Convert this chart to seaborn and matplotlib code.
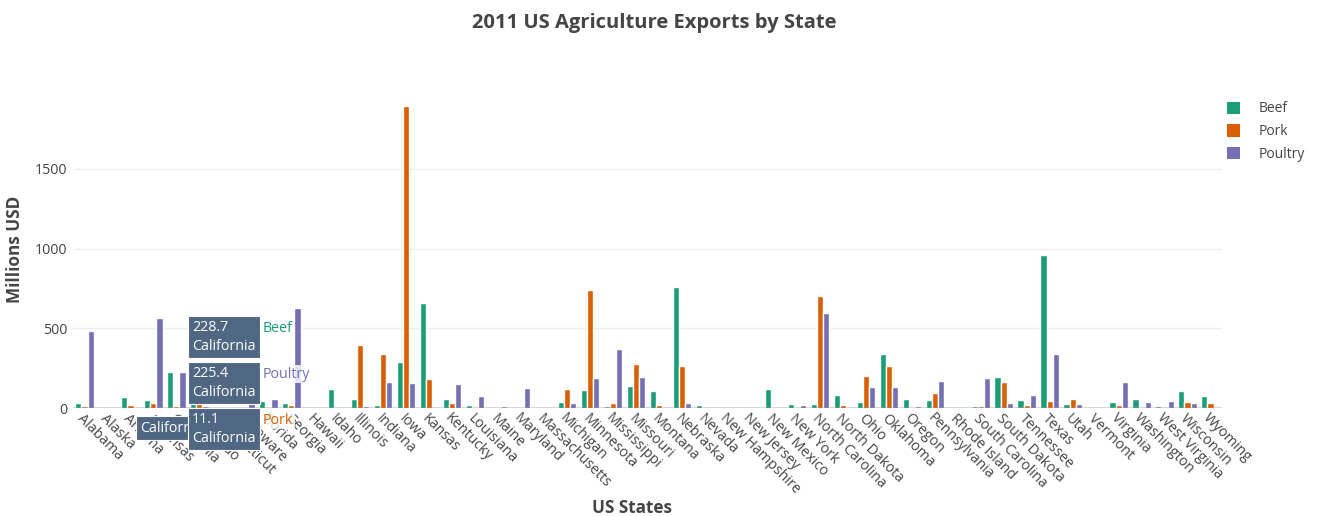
import pandas as pd
import seaborn as sns
import matplotlib.pyplot as plt
from matplotlib.patches import Patch

states = ['Alabama', 'Alaska', 'Arizona', 'Arkansas', 'California', 'Colorado', 'Connecticut',
          'Delaware', 'Florida', 'Georgia', 'Hawaii', 'Idaho', 'Illinois', 'Indiana', 'Iowa',
          'Kansas', 'Kentucky', 'Louisiana', 'Maine', 'Maryland', 'Massachusetts', 'Michigan',
          'Minnesota', 'Mississippi', 'Missouri', 'Montana', 'Nebraska', 'Nevada', 'New Hampshire',
          'New Jersey', 'New Mexico', 'New York', 'North Carolina', 'North Dakota', 'Ohio',
          'Oklahoma', 'Oregon', 'Pennsylvania', 'Rhode Island', 'South Carolina', 'South Dakota',
          'Tennessee', 'Texas', 'Utah', 'Vermont', 'Virginia', 'Washington', 'West Virginia',
          'Wisconsin', 'Wyoming']
beef = [34.4, 0.2, 71.3, 53.2, 228.7, 261.4, 1.1, 0.4, 42.6, 31.0, 4.0, 119.8, 53.7, 21.9,
        289.8, 659.3, 54.8, 19.8, 1.4, 5.6, 0.6, 37.7, 112.3, 12.8, 137.2, 105.0, 762.2, 21.8,
        0.6, 0.8, 117.2, 22.2, 24.8, 78.5, 36.2, 337.6, 58.8, 50.9, 0.1, 15.2, 193.5, 51.1,
        961.0, 27.9, 6.2, 39.5, 59.2, 12.0, 107.3, 75.1]
pork = [10.6, 0.1, 17.9, 29.4, 11.1, 66.0, 0.1, 0.6, 0.9, 18.9, 0.7, 0.0, 394.0, 341.9,
        1895.6, 179.4, 34.2, 0.8, 0.5, 3.1, 0.5, 118.1, 740.4, 30.4, 277.3, 16.7, 262.5, 0.1,
        0.1, 0.4, 0.1, 5.8, 702.8, 16.1, 199.1, 265.3, 1.4, 91.3, 0.1, 10.9, 160.2, 17.6,
        42.7, 59.0, 0.2, 16.9, 0.0, 0.3, 38.6, 33.2]
poultry = [481.0, 0.0, 0.0, 562.9, 225.4, 14.0, 6.9, 114.7, 56.9, 630.4, 1.3, 2.4, 14.0,
           165.6, 155.6, 6.4, 151.3, 77.2, 10.4, 127.0, 0.6, 32.6, 189.2, 370.8, 196.1, 1.7,
           31.4, 0.0, 0.9, 0.1, 0.3, 17.7, 598.4, 0.5, 129.9, 131.1, 14.2, 169.8, 0.2, 186.5,
           29.3, 82.4, 339.2, 22.7, 0.1, 164.7, 35.6, 45.4, 34.5, 0.0]

categories = ['Beef', 'Pork', 'Poultry']
colors = ['#1b9e77', '#d95f02', '#7570b3']

df = pd.DataFrame({'state': states, 'Beef': beef, 'Pork': pork, 'Poultry': poultry})
long = df.melt(id_vars='state', var_name='category', value_name='value')

sns.set_style('white')
plt.rcParams['font.family'] = ['Open Sans', 'DejaVu Sans']

W, H = 1329, 516
fig = plt.figure(figsize=(W / 100, H / 100), dpi=100)
ax = fig.add_axes([73 / W, 1 - 408 / H, (1222 - 73) / W, (408 - 90) / H])

sns.barplot(data=long, x='state', y='value', hue='category', hue_order=categories,
            palette=colors, width=0.8, gap=0, saturation=1, ax=ax, legend=False)

ax.set_xlim(-0.5, len(states) - 0.5)
ax.set_ylim(0, 1995)
ax.set_yticks([0, 500, 1000, 1500])
ax.yaxis.grid(True, color='#eeeeee', linewidth=1)
ax.set_axisbelow(True)
ax.axhline(0, color='#444444', linewidth=1, zorder=3)
for s in ax.spines.values():
    s.set_visible(False)
ax.tick_params(axis='both', length=0, colors='#444444', labelsize=10.3)
ax.tick_params(axis='y', pad=4)
ax.tick_params(axis='x', pad=2)
for lab in ax.get_xticklabels():
    lab.set_rotation(-45)
    lab.set_ha('left')
    lab.set_va('top')
    lab.set_rotation_mode('anchor')

ax.set_xlabel('US States', fontsize=12.3, fontweight='bold', color='#444444', va='center')
ax.xaxis.set_label_coords((632 - 73) / (1222 - 73), (408 - 508) / (408 - 90))
ax.set_ylabel('Millions USD', fontsize=12.3, fontweight='bold', color='#444444', labelpad=8)
fig.text(654 / W, 1 - 23 / H, '2011 US Agriculture Exports by State', ha='center', va='center',
         fontsize=14.5, fontweight='bold', color='#444444')

handles = [Patch(facecolor=c, edgecolor='none') for c in colors]
fig.legend(handles, categories, loc='upper left', bbox_to_anchor=(1214 / W, 1 - 89 / H),
           frameon=False, fontsize=10, handlelength=1.0, handleheight=1.0, handletextpad=1.3,
           labelspacing=0.55, labelcolor='#444444')

# hover label left over from the screenshot
def px(x, y):
    return x / W, 1 - y / H

fig.text(*px(140, 428), 'California', ha='left', va='center', color='white', fontsize=10.3,
         zorder=4, bbox=dict(boxstyle='square,pad=0.3', facecolor='#506784', edgecolor='white',
                             linewidth=0.8))
tips = [('228.7', 'Beef', colors[0], 337), ('225.4', 'Poultry', colors[2], 383),
        ('11.1', 'Pork', colors[1], 429)]
for val, name, col, yc in tips:
    fig.text(*px(192, yc), f'{val}\nCalifornia', ha='left', va='center', color='white',
             fontsize=10.3, linespacing=1.3, zorder=5,
             bbox=dict(boxstyle='square,pad=0.3', facecolor='#506784', edgecolor='white',
                       linewidth=0.8))
    fig.text(*px(263, yc - 9), name, ha='left', va='center', color=col, fontsize=10.3,
             zorder=5, bbox=dict(boxstyle='square,pad=0.1', facecolor='white', edgecolor='none',
                                 alpha=0.8))

fig.savefig('out.png', dpi=100)
